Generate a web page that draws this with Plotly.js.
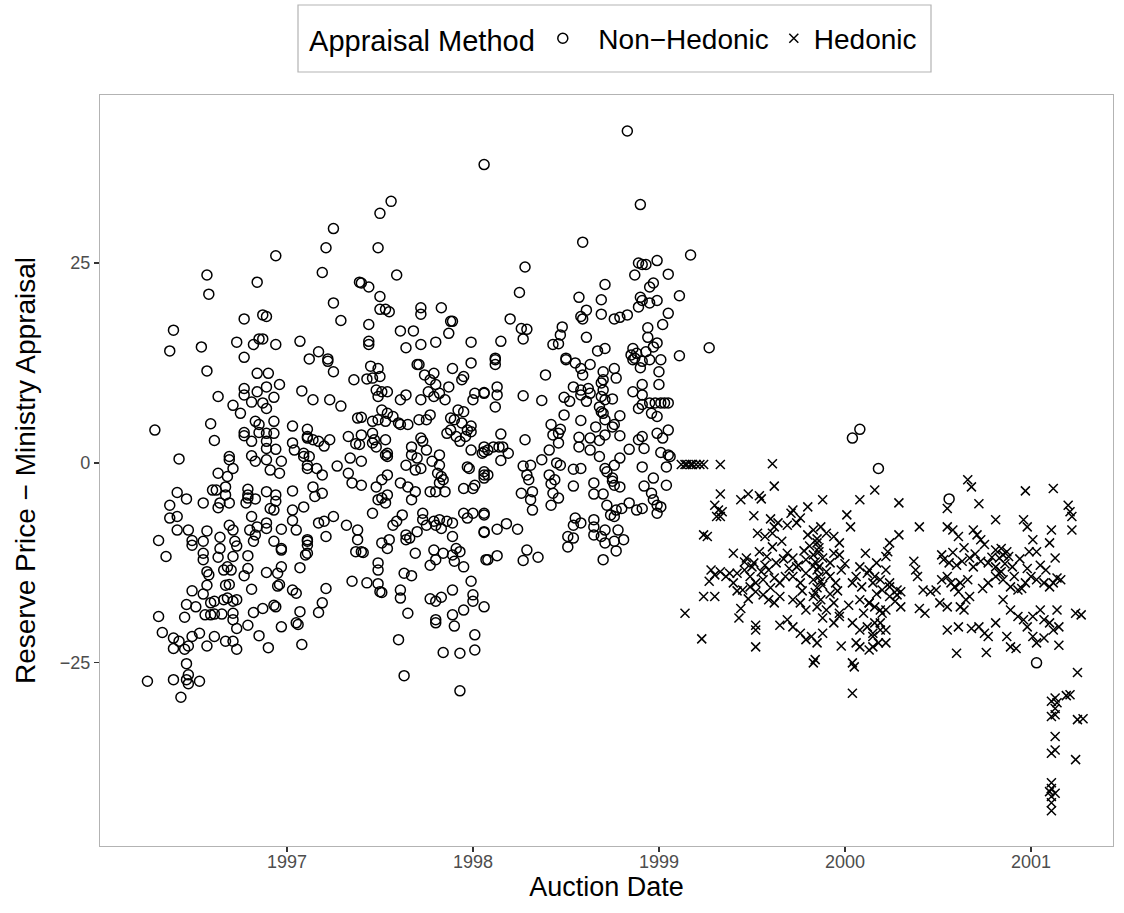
<!DOCTYPE html>
<html>
<head>
<meta charset="utf-8">
<script src="https://cdn.plot.ly/plotly-3.0.1.min.js"></script>
<style>html,body{margin:0;padding:0;background:#fff;}#chart{width:1124px;height:913px;}</style>
</head>
<body>
<div id="chart"></div>
<script>
// [decimal year, reserve price - ministry appraisal]
const nonHedonic = [
[1996.94,25.9],[1996.57,23.5],[1996.84,22.6],[1996.58,21.1],[1996.77,18.0],[1996.87,18.5],[1996.89,18.3],[1996.39,16.6],[1996.37,14.0],[1996.54,14.5],[1996.73,15.1],[1996.82,14.8],[1996.85,15.5],[1996.87,15.5],[1996.94,14.8],[1997.07,15.2],[1996.77,13.2],[1997.12,13.0],[1996.57,11.5],[1996.84,11.2],[1996.90,11.2],[1996.77,9.3],[1996.77,8.5],[1996.84,8.9],[1996.89,9.5],[1996.96,9.8],[1997.08,9.0],[1996.63,8.3],[1996.71,7.2],[1996.75,6.2],[1996.81,7.6],[1996.87,7.5],[1996.89,6.8],[1996.93,8.2],[1996.59,4.9],[1996.29,4.1],[1996.61,2.8],[1996.83,5.2],[1996.85,4.8],[1996.93,5.2],[1997.03,4.6],[1997.11,4.2],[1996.77,3.8],[1996.77,3.4],[1996.81,2.7],[1996.85,3.8],[1996.89,3.7],[1996.93,3.7],[1996.89,2.7],[1996.89,1.8],[1996.94,1.7],[1997.03,2.5],[1997.04,1.6],[1997.11,3.1],[1996.42,0.5],[1996.69,0.8],[1996.69,0.4],[1996.71,-0.7],[1996.63,-1.3],[1996.68,-1.7],[1996.81,0.9],[1996.83,0.2],[1996.89,0.4],[1996.97,0.2],[1996.91,-0.9],[1996.96,-1.3],[1997.09,0.8],[1997.11,-0.7],
[1996.60,-3.4],[1996.62,-3.4],[1996.67,-3.0],[1996.67,-4.0],[1996.79,-3.3],[1996.79,-4.0],[1996.79,-4.4],[1996.83,-4.5],[1996.89,-3.6],[1996.94,-4.0],[1996.94,-4.8],[1997.03,-3.5],[1996.41,-3.7],[1996.46,-4.5],[1996.55,-5.0],[1996.64,-5.0],[1996.63,-5.6],[1996.69,-5.0],[1996.37,-5.3],[1996.37,-6.9],[1996.41,-6.7],[1996.78,-5.0],[1996.91,-5.7],[1996.93,-5.9],[1997.03,-5.9],[1997.09,-5.5],[1996.81,-6.7],[1996.69,-7.8],[1996.71,-8.4],[1996.41,-8.4],[1996.47,-8.4],[1996.57,-8.5],[1996.80,-8.4],[1996.84,-8.0],[1996.83,-9.0],[1996.89,-7.5],[1996.89,-8.2],[1996.97,-8.3],[1997.03,-7.2],[1997.05,-8.4],[1996.31,-9.7],[1996.49,-9.7],[1996.49,-10.3],[1996.55,-9.8],[1996.64,-9.3],[1996.72,-9.8],[1996.73,-10.4],[1996.82,-9.8],[1996.93,-9.8],[1996.97,-10.7],[1996.97,-10.9],[1997.11,-9.8],[1996.35,-11.7],[1996.55,-11.3],[1996.55,-12.1],[1996.64,-10.7],[1996.63,-11.8],[1996.71,-11.7],[1996.79,-11.6],[1997.10,-11.5],[1996.57,-13.6],[1996.58,-14.0],[1996.66,-13.4],[1996.68,-13.0],[1996.70,-13.4],[1996.77,-14.1],[1996.79,-13.2],[1996.89,-13.7],[1996.95,-13.8],[1996.97,-13.0],[1997.07,-13.1],[1996.49,-16.0],[1996.55,-16.4],[1996.57,-15.3],[1996.67,-15.3],[1996.69,-15.2],[1996.81,-15.8],[1996.95,-15.4],[1996.96,-15.2],[1997.03,-15.9],[1997.05,-16.3],[1996.46,-17.7],[1996.51,-18.0],[1996.59,-17.5],[1996.61,-17.3],[1996.66,-17.1],[1996.68,-16.9],[1996.71,-17.3],[1996.73,-17.1],[1996.56,-19.0],[1996.59,-19.0],[1996.61,-18.9],[1996.65,-18.9],[1996.71,-18.8],[1996.71,-19.6],[1996.82,-18.7],[1996.87,-18.2],[1996.93,-17.8],[1996.94,-18.0],[1996.31,-19.2],[1996.45,-19.3],[1997.07,-18.6],[1996.33,-21.2],[1996.39,-21.9],[1996.42,-22.3],[1996.49,-21.7],[1996.53,-21.3],[1996.61,-21.7],[1996.67,-22.3],[1996.73,-20.7],[1996.79,-20.3],[1996.85,-21.6],[1996.97,-20.5],[1997.05,-20.0],[1997.06,-20.2],[1996.39,-23.2],[1996.45,-23.3],[1996.47,-22.9],[1996.57,-22.9],[1996.71,-22.3],[1996.73,-23.3],[1996.90,-23.1],[1997.08,-22.7],[1996.46,-25.1],[1996.47,-26.5],[1996.46,-27.1],[1996.47,-27.6],[1996.25,-27.3],[1996.39,-27.1],[1996.53,-27.3],[1996.43,-29.3],
[1998.06,37.3],[1997.56,32.7],[1997.50,31.2],[1997.25,29.3],[1997.21,26.9],[1997.49,26.9],[1997.19,23.8],[1997.59,23.5],[1997.39,22.6],[1997.40,22.5],[1997.44,22.0],[1997.50,20.8],[1997.25,20.0],[1997.50,19.2],[1997.53,19.2],[1997.55,18.9],[1997.72,19.4],[1997.72,18.6],[1997.83,19.4],[1997.88,17.7],[1997.89,17.7],[1997.29,17.8],[1997.44,17.3],[1997.61,16.5],[1997.68,16.5],[1997.87,16.2],[1997.44,15.2],[1997.44,14.8],[1997.64,14.4],[1997.72,14.8],[1997.80,15.1],[1997.99,15.1],[1997.17,13.9],[1997.22,13.0],
[1997.22,12.7],[1997.25,11.4],[1997.45,12.1],[1997.49,11.8],[1997.50,10.8],[1997.46,10.6],[1997.43,10.5],[1997.70,12.3],[1997.71,12.3],[1997.36,10.4],[1997.74,11.0],[1997.79,11.2],[1997.77,10.4],[1997.80,9.8],[1997.87,9.5],[1997.89,11.8],[1997.95,10.8],[1997.94,10.4],[1997.99,12.5],[1997.14,7.9],[1997.23,7.9],[1997.29,7.1],[1997.48,9.1],[1997.51,8.9],[1997.54,8.9],[1997.49,8.3],[1997.61,7.9],[1997.64,8.5],[1997.72,7.9],[1997.76,8.9],[1997.79,8.3],[1997.82,8.7],[1997.85,7.9],[1998.01,8.7],[1998.06,8.7],[1998.00,7.9],[1997.51,6.6],[1997.54,6.2],[1997.57,5.8],[1997.60,5.0],[1997.61,4.8],[1997.38,5.6],[1997.40,5.7],[1997.46,5.2],[1997.49,5.4],[1997.53,5.2],[1997.71,5.4],[1997.75,5.4],[1997.77,6.0],[1997.65,4.8],[1997.88,5.6],[1997.90,5.4],[1997.92,6.6],[1997.95,6.4],[1997.94,5.0],[1997.97,4.1],[1997.99,4.6],[1997.11,3.3],[1997.14,2.9],[1997.17,2.7],[1997.20,2.1],[1997.23,2.9],[1997.33,3.3],[1997.40,3.5],[1997.46,3.7],[1997.47,2.9],[1997.53,2.9],[1997.37,2.4],[1997.39,2.3],[1997.48,2.0],[1997.46,2.5],[1997.53,1.0],[1997.54,0.8],[1997.54,1.2],[1997.67,2.0],[1997.72,3.1],[1997.73,2.7],[1997.75,1.6],[1997.70,0.6],[1997.67,1.0],[1997.82,1.0],[1997.82,-0.3],[1997.86,3.7],[1997.88,4.1],[1997.91,3.3],[1997.93,2.7],[1997.96,3.3],[1997.99,3.9],[1998.06,2.0],[1998.06,1.4],[1998.05,1.2],[1997.99,1.6],[1997.09,1.2],[1997.12,0.8],[1997.11,-0.3],[1997.16,-0.7],[1997.19,-1.5],[1997.27,-0.4],[1997.34,0.6],[1997.40,0.2],[1997.33,-1.3],[1997.35,-2.5],[1997.40,-2.8],[1997.48,-3.0],[1997.51,-2.1],[1997.54,-1.5],[1997.61,-2.5],[1997.65,-3.0],[1997.69,-3.6],[1997.67,-4.6],[1997.64,-0.3],[1997.69,-0.9],[1997.72,-0.7],[1997.78,0.2],[1997.81,-1.3],[1997.83,-1.7],[1997.84,-2.1],[1997.82,-2.5],[1997.77,-3.6],[1997.80,-3.6],[1997.85,-3.6],[1997.95,-3.2],[1997.97,-0.5],[1997.98,-0.7],[1998.01,-2.8],[1998.00,-3.2],[1998.06,-1.5],[1997.14,-3.0],[1997.19,-3.8],[1997.15,-4.2],[1997.25,-6.7],[1997.20,-7.3],[1997.17,-7.5],[1997.32,-7.8],[1997.38,-8.4],[1997.38,-9.6],[1997.21,-9.2],[1997.46,-6.3],[1997.49,-4.6],[1997.51,-4.4],[1997.54,-4.0],[1997.53,-5.0],[1997.57,-7.8],[1997.59,-7.3],[1997.62,-6.5],[1997.64,-9.0],[1997.66,-9.4],[1997.70,-8.6],[1997.73,-6.3],[1997.73,-7.1],[1997.75,-7.8],[1997.79,-7.3],[1997.80,-7.8],[1997.82,-7.1],[1997.83,-8.2],[1997.86,-7.3],[1997.89,-7.5],[1997.95,-6.3],[1997.97,-6.9],[1998.00,-6.3],[1998.06,-6.3],[1998.06,-8.6],[1997.89,-9.2],[1997.11,-9.6],[1997.11,-10.3],[1997.11,-11.3],[1997.37,-11.1],[1997.40,-11.1],[1997.51,-10.0],[1997.55,-9.6],[1997.54,-10.7],[1997.64,-9.6],[1997.69,-11.3],[1997.79,-10.9],[1997.84,-11.3],[1997.91,-10.7],[1997.93,-11.1],
[1997.35,-14.8],[1997.43,-15.0],[1997.49,-12.5],[1997.49,-13.4],[1997.49,-15.1],[1997.50,-16.1],[1997.51,-16.2],[1997.63,-13.8],[1997.67,-14.1],[1997.41,-11.2],[1997.89,-11.5],[1997.90,-12.3],[1997.95,-13.0],[1997.77,-12.8],[1997.80,-12.1],[1998.07,-12.1],[1997.21,-15.7],[1997.19,-17.5],[1997.17,-18.7],[1997.61,-15.9],[1997.61,-16.9],[1997.65,-18.8],[1997.60,-22.1],[1997.63,-26.6],[1997.89,-15.9],[1997.77,-17.0],[1997.80,-17.3],[1997.83,-16.8],[1997.99,-14.8],[1998.00,-16.5],[1998.00,-17.3],[1998.06,-18.0],[1997.80,-19.6],[1997.80,-20.0],[1997.89,-19.0],[1997.90,-20.4],[1997.95,-18.4],[1998.01,-21.5],[1997.84,-23.7],[1997.93,-23.8],[1998.01,-23.4],[1997.93,-28.5],
[1998.83,41.5],[1998.90,32.3],[1998.59,27.6],[1999.17,26.0],[1998.28,24.5],[1998.89,25.0],[1998.91,24.8],[1998.93,24.8],[1998.99,25.3],[1998.87,23.5],[1999.05,23.6],[1998.25,21.3],[1998.71,22.3],[1998.95,22.0],[1998.97,22.5],[1998.57,20.7],[1998.69,20.4],[1998.90,20.7],[1998.91,20.3],[1998.89,19.5],[1998.95,20.0],[1998.99,20.3],[1999.11,20.9],[1998.61,19.1],[1998.58,18.3],[1998.59,18.0],[1998.69,18.6],[1998.76,18.0],[1998.79,18.2],[1998.83,18.5],[1999.05,18.7],[1998.20,18.0],[1998.26,16.8],[1998.29,16.7],[1999.02,17.3],[1998.48,17.0],[1998.94,16.9],[1998.94,15.7],[1998.47,16.0],[1998.46,14.9],[1998.43,14.8],[1998.27,15.5],[1998.15,15.2],[1998.61,15.7],[1998.99,15.0],[1998.97,14.5],[1998.67,14.0],[1998.71,14.3],[1998.85,13.5],[1998.86,14.3],[1999.11,13.4],[1998.12,13.1],[1998.50,13.1],[1999.27,14.4],
[1998.12,12.9],[1998.12,12.3],[1998.39,11.0],[1998.50,12.9],[1998.55,12.5],[1998.58,11.8],[1998.63,12.3],[1998.59,11.0],[1998.70,11.4],[1998.76,11.8],[1998.77,10.6],[1998.70,10.4],[1998.86,12.9],[1998.87,13.1],[1998.91,12.7],[1998.90,11.9],[1998.95,12.9],[1999.01,12.9],[1999.00,11.4],[1998.88,13.7],[1998.93,13.9],[1998.13,9.5],[1998.06,8.8],[1998.13,8.5],[1998.12,7.0],[1998.27,8.4],[1998.37,7.8],[1998.49,8.2],[1998.52,7.7],[1998.54,9.5],[1998.58,8.5],[1998.58,9.1],[1998.62,9.3],[1998.63,8.7],[1998.61,7.7],[1998.69,10.0],[1998.70,9.1],[1998.69,8.3],[1998.71,7.9],[1998.75,8.0],[1998.86,8.9],[1998.91,9.8],[1998.91,8.5],[1998.89,6.8],[1998.91,7.3],[1999.00,9.8],[1998.95,7.5],[1998.98,7.5],[1999.01,7.5],[1999.03,7.5],[1999.05,7.5],[1998.96,6.2],[1998.99,5.8],[1998.68,7.0],[1998.70,6.2],[1998.71,5.4],[1998.69,6.4],[1998.79,5.9],[1998.58,5.3],[1998.49,6.0],[1998.42,4.8],[1998.47,4.2],[1998.43,3.5],[1998.46,3.7],[1998.46,2.5],[1998.66,4.5],[1998.71,3.5],[1998.75,4.5],[1998.76,4.8],[1998.79,3.4],[1998.57,3.2],[1998.63,3.1],[1998.57,2.0],[1998.63,1.6],[1998.68,2.8],[1998.84,1.7],[1998.89,2.9],[1998.91,3.3],[1998.92,1.8],[1998.99,3.7],[1999.05,4.1],[1999.02,3.1],[1999.01,1.3],[1999.05,1.0],[1999.06,0.8],[1999.04,-0.5],[1998.15,3.6],[1998.08,1.6],[1998.11,2.0],[1998.14,2.0],[1998.16,2.0],[1998.19,1.2],[1998.28,2.9],[1998.15,0.3],[1998.41,1.6],[1998.37,0.4],[1998.27,-0.4],[1998.31,-0.3],[1998.45,0.0],[1998.47,-0.3],[1998.54,-0.8],[1998.58,-0.7],[1998.68,0.8],[1998.71,-0.7],[1998.72,-1.1],[1998.76,-0.3],[1998.79,0.6],[1998.91,-0.5],[1998.06,-1.1],[1998.08,-1.5],[1998.06,-1.9],[1998.29,-1.5],[1998.30,-2.1],[1998.26,-3.8],[1998.32,-3.6],[1998.41,-1.5],[1998.44,-2.1],[1998.42,-2.6],[1998.43,-3.8],[1998.46,-4.4],[1998.42,-5.3],[1998.31,-4.6],[1998.32,-5.9],[1998.54,-2.9],[1998.65,-2.5],[1998.65,-3.9],[1998.70,-3.9],[1998.75,-1.9],[1998.76,-2.8],[1998.79,-3.0],[1998.75,-2.3],[1998.92,-2.9],[1998.97,-1.9],[1998.96,-3.8],[1998.99,-5.3],[1998.97,-4.6],[1999.04,-2.8],[1998.72,-5.3],[1998.74,-6.5],[1998.76,-6.7],[1998.80,-5.7],[1998.77,-5.9],[1998.84,-5.0],[1998.88,-5.9],[1998.91,-5.7],[1998.99,-6.3],[1998.06,-6.5],[1998.06,-8.7],[1998.13,-8.3],[1998.18,-7.6],[1998.24,-8.3],[1998.55,-6.9],[1998.54,-7.8],[1998.58,-7.5],[1998.65,-7.1],[1998.65,-8.0],[1998.51,-9.2],[1998.54,-9.4],[1998.51,-10.5],[1998.65,-9.0],[1998.69,-9.2],[1998.71,-8.4],[1998.71,-10.0],[1998.76,-9.8],[1998.78,-8.4],[1998.81,-9.6],[1998.77,-11.0],[1998.70,-12.1],[1998.08,-12.1],[1998.13,-11.6],[1998.27,-12.2],[1998.29,-10.9],[1998.35,-11.8],
[1999.01,-5.5],[2000.08,4.2],[2000.04,3.1],[2000.18,-0.7],[2000.56,-4.5],[2001.03,-25.0]
];
const hedonic = [
[1999.12,-0.2],[1999.14,-0.2],[1999.15,-0.2],[1999.17,-0.2],[1999.18,-0.2],[1999.20,-0.2],[1999.22,-0.2],[1999.24,-0.2],[1999.33,-0.2],
[1999.61,-0.1],[1999.62,-2.9],[1999.33,-3.9],[1999.30,-5.3],[1999.32,-5.9],[1999.34,-6.1],[1999.31,-6.7],[1999.33,-6.7],[1999.44,-4.6],[1999.48,-3.9],[1999.54,-4.1],[1999.55,-4.5],[1999.88,-4.6],[1999.80,-5.5],[1999.72,-5.9],[2000.08,-4.6],[2000.16,-3.4],[1999.51,-6.6],[1999.60,-7.0],[1999.64,-7.5],[1999.71,-6.3],[1999.76,-6.9],[2000.01,-6.5],[2000.03,-8.0],[1999.24,-9.0],[1999.26,-9.2],[1999.53,-8.8],[1999.57,-9.2],[1999.61,-8.8],[1999.62,-8.0],[1999.69,-7.8],[1999.74,-7.5],[1999.83,-8.4],[1999.87,-8.0],[1999.90,-8.8],[1999.94,-9.2],[1999.97,-10.0],[1999.40,-11.3],[1999.47,-11.9],[1999.51,-12.5],[1999.54,-11.1],[1999.58,-11.7],[1999.61,-10.5],[1999.63,-12.5],[1999.69,-11.3],[1999.72,-11.9],[1999.74,-13.0],[1999.79,-12.1],[1999.83,-11.5],[1999.85,-10.0],[1999.86,-11.1],[1999.88,-11.9],[1999.92,-12.5],[1999.94,-11.3],[1999.97,-11.5],[2000.11,-11.3],[2000.08,-13.0],[2000.12,-13.8],[2000.17,-12.5],[2000.22,-11.7],[1999.28,-13.4],[1999.30,-14.0],[1999.33,-13.6],[1999.36,-14.2],[1999.38,-13.8],[1999.27,-14.8],[1999.42,-13.8],[1999.46,-13.4],[1999.49,-14.2],[1999.52,-15.0],[1999.56,-14.6],[1999.59,-13.4],[1999.62,-14.4],[1999.65,-15.0],[1999.68,-14.2],[1999.72,-14.2],[1999.76,-15.0],[1999.79,-13.8],[1999.83,-14.6],[1999.85,-13.4],[1999.86,-14.2],[1999.88,-15.3],[1999.92,-14.2],[1999.95,-15.0],[1999.98,-13.4],[2000.04,-15.0],[2000.09,-15.5],[2000.15,-15.0],[2000.20,-15.9],[2000.24,-15.5],[2000.08,-17.1],[2000.13,-17.5],[2000.19,-18.4],[1999.24,-16.7],[1999.30,-16.7],[1999.45,-15.9],[1999.49,-15.5],[1999.52,-16.1],[1999.56,-16.5],[1999.59,-17.1],[1999.62,-17.5],[1999.65,-16.7],[1999.72,-17.1],[1999.76,-17.5],[1999.79,-18.4],[1999.83,-16.7],[1999.85,-18.0],[1999.87,-17.1],[1999.90,-18.4],[1999.94,-17.5],[1999.97,-18.8],[1999.88,-19.4],[1999.14,-18.8],[1999.44,-18.2],[1999.43,-19.4],[1999.52,-20.3],[1999.52,-20.9],[1999.65,-20.3],[1999.69,-19.6],[1999.72,-20.5],[1999.76,-21.3],[1999.79,-22.1],[1999.82,-21.7],[1999.85,-22.5],[1999.88,-21.3],[1999.94,-20.0],[1999.97,-19.2],[2000.04,-20.0],[2000.08,-20.9],[2000.12,-20.5],[2000.15,-21.3],[2000.19,-20.0],[2000.22,-20.9],[2000.06,-22.5],[2000.15,-23.0],[2000.08,-23.0],[1999.23,-22.0],[1999.52,-23.0],[1999.98,-22.9],[1999.83,-25.0],[1999.84,-24.6],[2000.04,-25.0],[2000.05,-25.5],[2000.04,-28.8],
[1999.85,-9.5],[1999.86,-10.6],[1999.84,-12.4],[1999.86,-13.0],[1999.85,-15.6],[1999.84,-16.2],[1999.87,-14.8],[1999.83,-12.9],[1999.81,-10.4],[1999.80,-9.0],[1999.78,-11.0],[1999.77,-16.0],[1999.75,-12.8],[1999.70,-13.2],[1999.67,-12.0],[1999.66,-9.8],[1999.60,-15.6],[1999.57,-12.8],[1999.55,-13.6],[1999.50,-13.0],[1999.48,-17.0],[1999.46,-12.4],[1999.42,-16.0],[1999.40,-15.0],[1999.90,-13.6],[1999.92,-16.4],[1999.96,-16.0],[2000.00,-12.6],[2000.02,-17.8],[2000.06,-14.2],[2000.10,-18.8],[2000.17,-16.4],
[2000.66,-2.1],[2000.68,-3.0],[2000.97,-3.5],[2001.12,-3.2],[2000.29,-5.0],[2000.72,-5.1],[2000.55,-5.7],[2001.20,-5.3],[2001.21,-6.1],[2001.22,-6.7],[2000.81,-7.1],[2000.96,-7.1],[2000.98,-8.0],[2001.11,-8.4],[2001.22,-8.4],[2000.40,-8.0],[2000.55,-8.0],[2000.58,-8.4],[2000.61,-9.2],[2000.69,-8.4],[2000.71,-9.0],[2000.73,-9.6],[2000.29,-9.0],[2000.24,-10.0],[2000.23,-11.1],[2001.01,-9.6],[2001.10,-10.0],[2000.99,-11.1],[2001.03,-11.1],[2001.13,-11.9],[2000.81,-10.9],[2000.84,-10.7],[2000.87,-11.1],[2000.85,-11.5],[2000.88,-11.7],[2000.52,-11.5],[2000.53,-12.1],[2000.56,-12.5],[2000.63,-12.3],[2000.67,-11.9],[2000.69,-13.0],[2000.73,-12.3],[2000.77,-12.5],[2000.81,-13.0],[2000.84,-13.6],[2000.37,-12.3],[2000.38,-13.4],[2000.39,-14.2],[2000.13,-13.4],[2000.16,-14.2],[2000.19,-14.6],[2000.22,-13.4],[2000.24,-15.0],[2000.28,-15.9],[2000.30,-16.1],[2000.42,-15.9],[2000.46,-16.1],[2000.49,-15.9],[2000.52,-14.6],[2000.55,-14.2],[2000.57,-15.0],[2000.59,-15.5],[2000.62,-15.0],[2000.66,-14.6],[2000.61,-16.1],[2000.74,-15.7],[2000.77,-15.0],[2000.81,-14.2],[2000.83,-13.8],[2000.85,-14.6],[2000.89,-15.5],[2000.93,-15.9],[2000.95,-15.7],[2000.97,-15.0],[2001.00,-14.2],[2001.03,-14.6],[2001.07,-15.0],[2001.10,-15.5],[2001.12,-15.0],[2001.14,-14.4],[2001.16,-14.6],[2000.13,-17.5],[2000.16,-18.0],[2000.20,-18.8],[2000.22,-18.4],[2000.16,-20.0],[2000.19,-20.9],[2000.15,-21.7],[2000.18,-22.5],[2000.22,-22.5],[2000.13,-23.4],[2000.24,-16.7],[2000.27,-17.3],[2000.30,-18.0],[2000.28,-16.5],[2000.40,-18.2],[2000.43,-18.8],[2000.51,-17.5],[2000.55,-18.0],[2000.62,-18.0],[2000.65,-17.1],[2000.67,-16.7],[2000.64,-18.4],[2000.55,-20.9],[2000.61,-20.5],[2000.68,-20.7],[2000.72,-20.5],[2000.75,-21.3],[2000.77,-21.7],[2000.81,-20.0],[2000.85,-17.1],[2000.89,-18.4],[2000.93,-19.2],[2000.96,-19.6],[2000.98,-20.5],[2001.01,-19.2],[2001.05,-18.4],[2001.07,-19.6],[2001.10,-20.0],[2001.12,-20.9],[2001.15,-20.5],[2001.14,-18.4],[2000.87,-21.7],[2000.89,-23.0],[2000.92,-23.2],[2001.01,-21.7],[2001.03,-22.5],[2001.07,-21.9],[2001.15,-22.8],[2000.60,-23.8],[2000.76,-23.7],[2001.24,-18.8],[2001.27,-19.0],[2001.25,-26.2],[2001.13,-29.4],[2001.14,-30.0],[2001.19,-29.1],[2001.21,-29.0],
[2000.58,-11.2],[2000.60,-12.8],[2000.64,-10.6],[2000.70,-11.4],[2000.75,-10.2],[2000.79,-11.8],[2000.83,-11.9],[2000.86,-12.6],[2000.90,-13.0],[2000.91,-14.2],[2000.94,-12.0],[2000.98,-13.2],[2001.05,-12.8],[2001.08,-13.4],
[2001.11,-29.8],[2001.13,-30.7],[2001.13,-31.5],[2001.11,-31.7],[2001.25,-32.1],[2001.28,-32.0],[2001.13,-34.2],[2001.13,-35.9],[2001.11,-36.3],[2001.24,-37.1],[2001.11,-40.0],[2001.11,-40.7],[2001.10,-41.1],[2001.13,-41.3],[2001.11,-41.7],[2001.11,-42.5],[2001.11,-43.5]
];
const xTickVals = [1997, 1998, 1999, 2000, 2001];
const xTickText = ['1997', '1998', '1999', '2000', '2001'];
const yTickVals = [-25, 0, 25];
const yTickText = ['\u221225', '0', '25'];
const seriesNames = ['Non\u2212Hedonic', 'Hedonic'];
const legendTitle = 'Appraisal Method';

const FONT = 'Liberation Sans, Arial, Helvetica, sans-serif';
const traces = [
  {
    type: 'scatter', mode: 'markers', name: '\u00a0\u00a0' + seriesNames[0],
    x: nonHedonic.map(p => p[0]), y: nonHedonic.map(p => p[1]),
    marker: {symbol: 'circle-open', size: 10, color: '#000', line: {width: 1.5, color: '#000'}},
    hoverinfo: 'x+y'
  },
  {
    type: 'scatter', mode: 'markers', name: seriesNames[1],
    x: hedonic.map(p => p[0]), y: hedonic.map(p => p[1]),
    marker: {symbol: 'x-thin-open', size: 9, color: '#000', line: {width: 1.5, color: '#000'}},
    hoverinfo: 'x+y'
  }
];
// plot area: x 100..1113, y 95..846 (px)
const layout = {
  width: 1124, height: 913,
  paper_bgcolor: '#fff', plot_bgcolor: '#fff',
  margin: {l: 100, r: 11, t: 95, b: 67},
  font: {family: FONT, color: '#000'},
  showlegend: true,
  legend: {
    orientation: 'h', x: 0.508, xanchor: 'center', y: (846 - 38.5) / 751, yanchor: 'middle',
    borderwidth: 0, bgcolor: 'rgba(0,0,0,0)',
    font: {size: 28, family: FONT, color: '#000'},
    title: {text: legendTitle, font: {size: 29, family: FONT, color: '#000'}, side: 'left'},
    itemwidth: 30
  },
  shapes: [{
    type: 'rect', xref: 'paper', yref: 'paper',
    x0: (298 - 100) / 1013, x1: (931 - 100) / 1013,
    y0: (846 - 72) / 751, y1: (846 - 5) / 751,
    line: {color: '#b3b3b3', width: 1.2}, fillcolor: 'rgba(0,0,0,0)', layer: 'below'
  }],
  xaxis: {
    range: [1995.995, 2001.441],
    tickvals: xTickVals, ticktext: xTickText,
    ticks: 'outside', ticklen: 5, tickwidth: 1.2, tickcolor: '#333',
    ticklabelstandoff: -6,
    tickfont: {size: 18, color: '#4d4d4d', family: FONT},
    showline: true, mirror: true, linecolor: '#b3b3b3', linewidth: 1.2,
    showgrid: false, zeroline: false,
    title: {text: 'Auction Date', font: {size: 27, color: '#000', family: FONT}, standoff: 4}
  },
  yaxis: {
    range: [-47.9, 46.0],
    tickvals: yTickVals, ticktext: yTickText,
    ticks: 'outside', ticklen: 5, tickwidth: 1.2, tickcolor: '#333',
    tickfont: {size: 18, color: '#4d4d4d', family: FONT},
    showline: true, mirror: true, linecolor: '#b3b3b3', linewidth: 1.2,
    showgrid: false, zeroline: false,
    title: {text: 'Reserve Price \u2212 Ministry Appraisal', font: {size: 28, color: '#000', family: FONT}, standoff: 15}
  }
};
Plotly.newPlot('chart', traces, layout, {displayModeBar: false, staticPlot: true});
</script>
</body>
</html>
